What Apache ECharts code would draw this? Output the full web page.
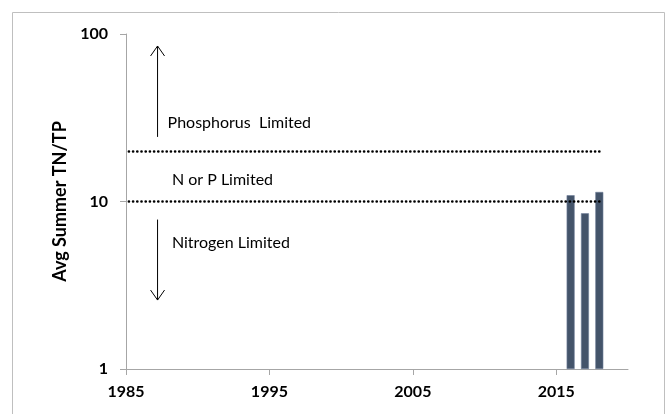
<!DOCTYPE html>
<html>
<head>
<meta charset="utf-8">
<script src="https://cdn.jsdelivr.net/npm/echarts@6/dist/echarts.min.js"></script>
<style>
  html, body { margin: 0; padding: 0; background: #fff; }
  #chart { width: 670px; height: 414px; }
</style>
</head>
<body>
<div id="chart"></div>
<script>
// data
const years = [2016, 2017, 2018]
const ratios = [10.9, 8.5, 11.4]
const thresholds = [20, 10]
const xTicks = [1985, 1995, 2005, 2015]
// annotations: [year, value] of the label's left/middle point
const zoneLabels = ['Phosphorus  Limited', 'N or P Limited', 'Nitrogen Limited']
const zoneLabelAt = [[1987.9, 29.4], [1988.2, 13.4], [1988.2, 5.7]]
// arrows: [year, from, to]
const arrows = [[1987.2, 24.3, 84.8], [1987.2, 7.8, 2.58]]

const font = 'Lato, "Open Sans", sans-serif'
const axisColor = '#a6a6a6'

var myChart = echarts.init(document.getElementById('chart'))

var option = {
  animation: false,
  grid: {
    left: 126,
    right: 42,
    top: 34,
    bottom: 45
  },
  graphic: [{
    type: 'rect',
    shape: { x: 12.5, y: 12.5, width: 652, height: 430 },
    style: { fill: 'none', stroke: '#bfbfbf', lineWidth: 1 },
    silent: true
  }],
  xAxis: {
    type: 'value',
    min: 1985,
    max: 2020,
    interval: 10,
    axisLine: { lineStyle: { color: axisColor } },
    axisTick: { show: true, length: 6, customValues: xTicks, lineStyle: { color: axisColor } },
    axisLabel: {
      customValues: xTicks,
      formatter: v => String(v),
      margin: 15,
      color: '#000',
      fontWeight: 'bold',
      fontSize: 16,
      fontFamily: font
    },
    splitLine: { show: false }
  },
  yAxis: {
    type: 'log',
    logBase: 10,
    min: 1,
    max: 100,
    name: 'Avg Summer TN/TP',
    nameLocation: 'middle',
    nameGap: 56,
    nameTextStyle: { color: '#000', fontWeight: 'bold', fontSize: 18, fontFamily: font },
    axisLine: { show: true, lineStyle: { color: axisColor } },
    axisTick: { show: true, length: 6, lineStyle: { color: axisColor } },
    axisLabel: {
      margin: 18,
      color: '#000',
      fontWeight: 'bold',
      fontSize: 16,
      fontFamily: font
    },
    splitLine: { show: false },
    minorTick: { show: false }
  },
  series: [
    {
      type: 'bar',
      data: years.map((y, i) => [y, ratios[i]]),
      barWidth: 8,
      itemStyle: { color: '#44546a', borderColor: '#71809a', borderWidth: 0.6 },
      markLine: {
        silent: true,
        symbol: 'none',
        label: { show: false },
        lineStyle: { type: [0.1, 4.1], cap: 'round', color: '#000', width: 2.6 },
        data: thresholds.map(v => [{ coord: [1985.2, v] }, { coord: [2018.1, v] }])
      }
    },
    {
      type: 'custom',
      silent: true,
      clip: false,
      data: arrows,
      renderItem: function (params, api) {
        var p1 = api.coord([api.value(0), api.value(1)])
        var p2 = api.coord([api.value(0), api.value(2)])
        var dir = p2[1] < p1[1] ? 1 : -1
        var head = [
          [p2[0] - 7, p2[1] + dir * 10],
          [p2[0], p2[1]],
          [p2[0] + 7, p2[1] + dir * 10]
        ]
        return {
          type: 'group',
          children: [
            { type: 'line', shape: { x1: p1[0], y1: p1[1], x2: p2[0], y2: p2[1] }, style: { stroke: '#000', lineWidth: 1 } },
            { type: 'polyline', shape: { points: head }, style: { stroke: '#000', fill: 'none', lineWidth: 1 } }
          ]
        }
      }
    },
    {
      type: 'custom',
      silent: true,
      clip: false,
      data: zoneLabelAt.map((p, i) => [p[0], p[1], i]),
      renderItem: function (params, api) {
        var p = api.coord([api.value(0), api.value(1)])
        return {
          type: 'text',
          style: {
            text: zoneLabels[api.value(2)],
            x: p[0],
            y: p[1],
            align: 'left',
            verticalAlign: 'middle',
            fill: '#000',
            font: '16px ' + font
          }
        }
      }
    }
  ]
}

myChart.setOption(option)
</script>
</body>
</html>
